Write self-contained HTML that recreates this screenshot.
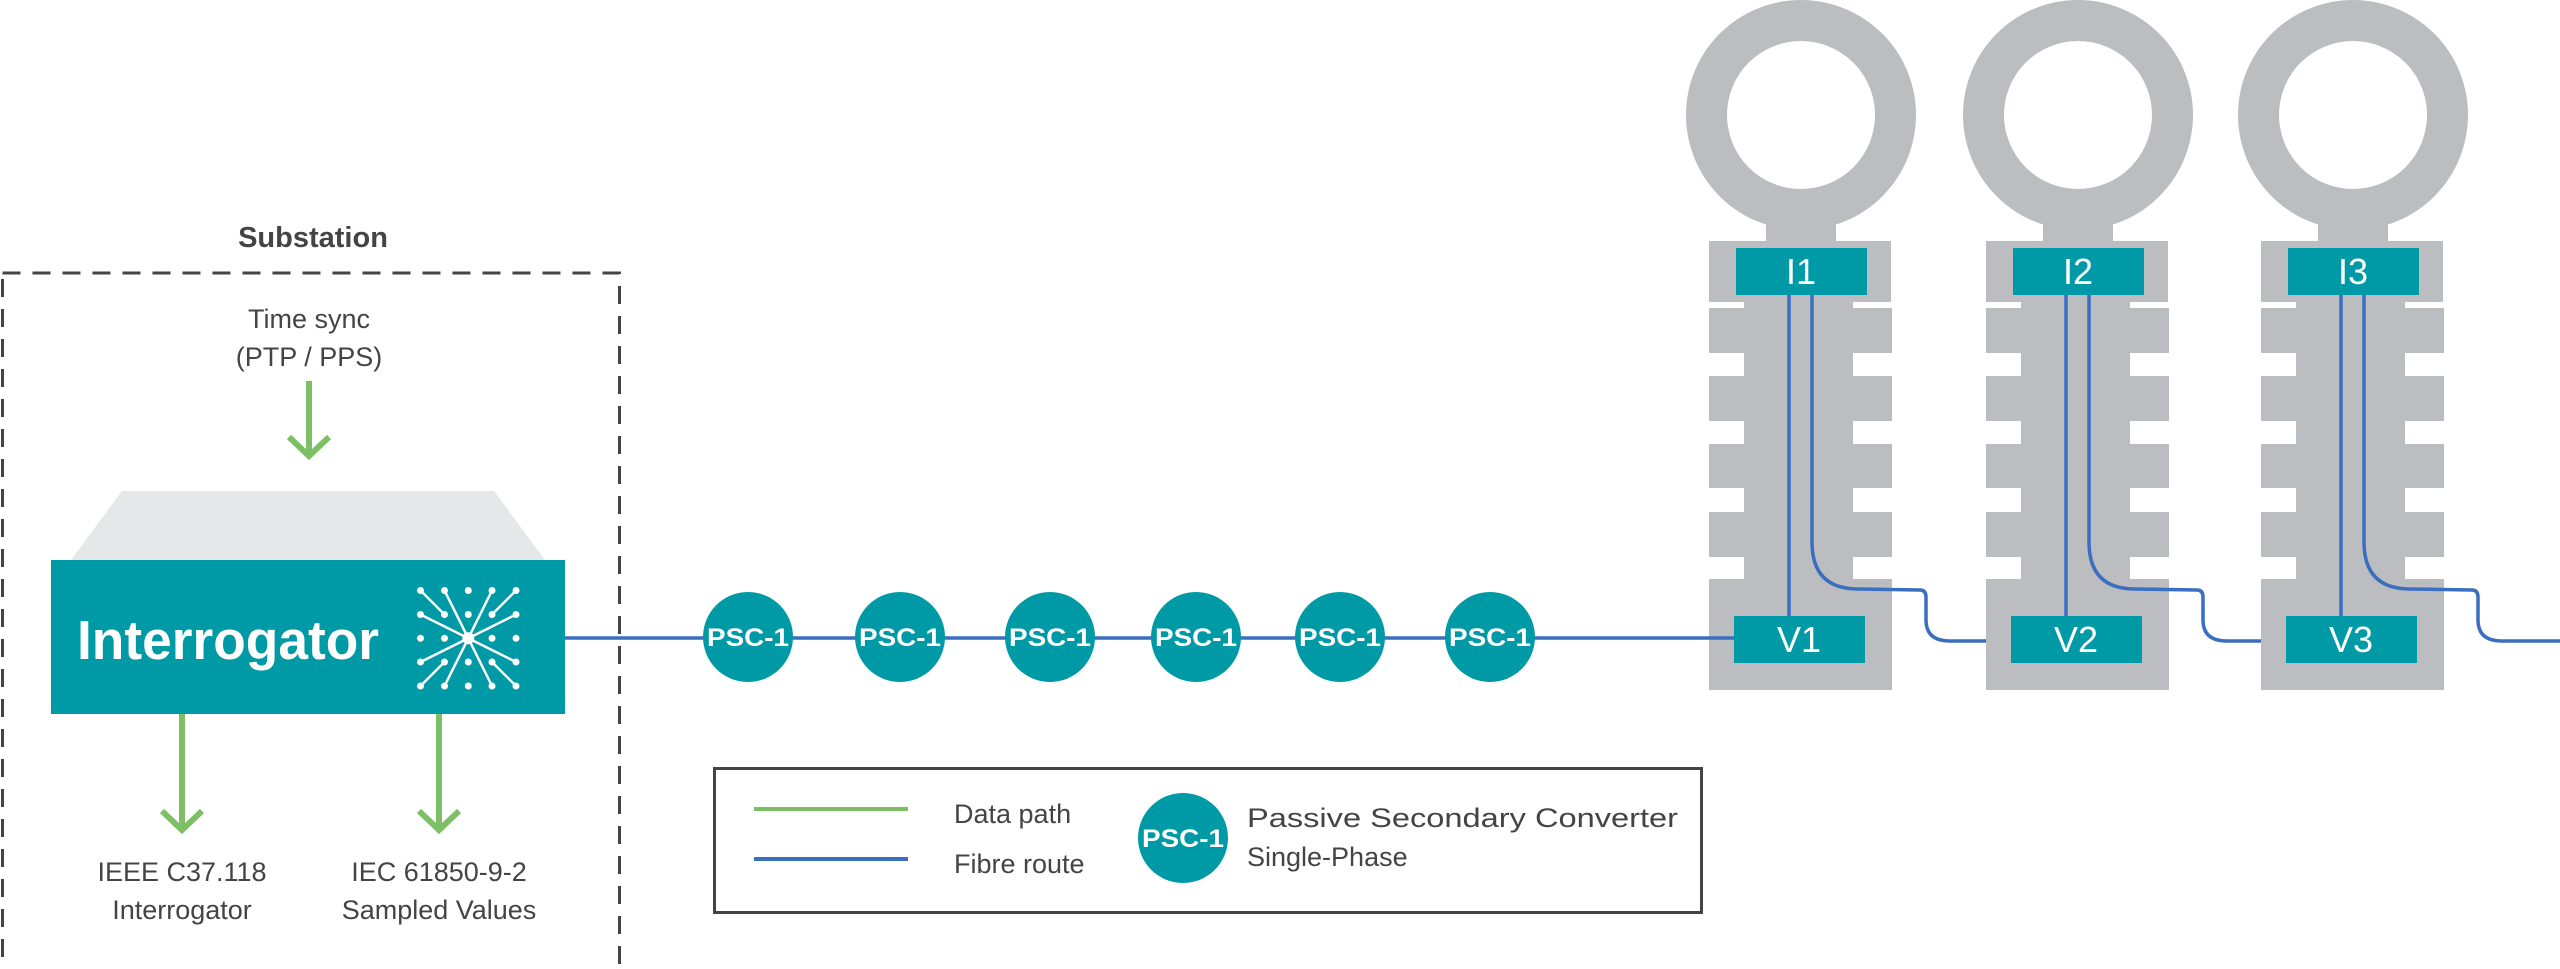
<!DOCTYPE html>
<html><head><meta charset="utf-8"><style>
html,body{margin:0;padding:0;background:#fff;}
svg{display:block;}
text{font-family:"Liberation Sans",sans-serif;}
</style></head><body>
<svg width="2560" height="969" viewBox="0 0 2560 969" xmlns="http://www.w3.org/2000/svg">
<defs>
<g id="ins">
  <circle cx="1801" cy="115" r="94.5" fill="none" stroke="#bcbdc0" stroke-width="41"/>
  <rect x="1766" y="195" width="70" height="50" fill="#bcbdc0"/>
  <rect x="1709" y="241" width="182" height="61" fill="#bcbdc0"/>
  <rect x="1744" y="302" width="109" height="388" fill="#bcbdc0"/>
  <rect x="1709" y="308" width="35" height="45" fill="#bcbdc0"/>
  <rect x="1853" y="308" width="39" height="45" fill="#bcbdc0"/>
  <rect x="1709" y="376" width="35" height="45" fill="#bcbdc0"/>
  <rect x="1853" y="376" width="39" height="45" fill="#bcbdc0"/>
  <rect x="1709" y="444" width="35" height="44" fill="#bcbdc0"/>
  <rect x="1853" y="444" width="39" height="44" fill="#bcbdc0"/>
  <rect x="1709" y="512" width="35" height="45" fill="#bcbdc0"/>
  <rect x="1853" y="512" width="39" height="45" fill="#bcbdc0"/>
  <rect x="1709" y="579" width="183" height="111" fill="#bcbdc0"/>
  <line x1="1789" y1="295" x2="1789" y2="616" stroke="#3a6fc0" stroke-width="3.5"/>
  <path d="M1812 295 L1812 542 Q1812 589 1858 589 L1920 590 Q1926 590 1926 597 L1926 620 Q1926 641 1950 641 L2015 641" fill="none" stroke="#3a6fc0" stroke-width="3.5"/>
  <rect x="1736" y="248" width="131" height="47" fill="#009aa6"/>
  <rect x="1734" y="616" width="131" height="47" fill="#009aa6"/>
</g>
<g id="psc">
  <circle r="45" fill="#009aa6"/>
  <text y="9" text-anchor="middle" font-size="25" font-weight="bold" fill="#fff" textLength="82" lengthAdjust="spacingAndGlyphs">PSC-1</text>
</g>
</defs>

<!-- Substation -->
<text x="313" y="247" text-anchor="middle" font-size="29" font-weight="bold" fill="#444">Substation</text>
<rect x="2.5" y="273" width="617" height="700" fill="none" stroke="#444" stroke-width="3" stroke-dasharray="18,12"/>
<text x="309" y="328" text-anchor="middle" font-size="27" fill="#444">Time sync</text>
<text x="309" y="366" text-anchor="middle" font-size="27" fill="#444">(PTP / PPS)</text>
<g stroke="#7dbf65" stroke-width="6" fill="none">
  <line x1="309" y1="381" x2="309" y2="456"/>
  <polyline points="289,437 309,456 329,437"/>
  <line x1="182" y1="714" x2="182" y2="830"/>
  <polyline points="162,811 182,830 202,811"/>
  <line x1="439" y1="714" x2="439" y2="830"/>
  <polyline points="419,811 439,830 459,811"/>
</g>
<text x="182" y="881" text-anchor="middle" font-size="27" fill="#444">IEEE C37.118</text>
<text x="182" y="919" text-anchor="middle" font-size="27" fill="#444">Interrogator</text>
<text x="439" y="881" text-anchor="middle" font-size="27" fill="#444">IEC 61850-9-2</text>
<text x="439" y="919" text-anchor="middle" font-size="27" fill="#444">Sampled Values</text>

<polygon points="122,491 494,491 545,560 71,560" fill="#e6e7e8"/>
<rect x="51" y="560" width="514" height="154" fill="#009aa6"/>
<text x="77" y="659" font-size="55" font-weight="bold" fill="#fff" textLength="302" lengthAdjust="spacingAndGlyphs">Interrogator</text>
<g stroke="#fff" stroke-width="2.5" fill="#fff">
  <line x1="420.5" y1="590.5" x2="444.5" y2="614.5"/>
  <line x1="516" y1="590.5" x2="492" y2="614.5"/>
  <line x1="420.5" y1="686" x2="444.5" y2="662"/>
  <line x1="516" y1="686" x2="492" y2="662"/>
  <line x1="444.5" y1="590.5" x2="468.3" y2="638.3"/>
  <line x1="492" y1="590.5" x2="468.3" y2="638.3"/>
  <line x1="444.5" y1="686" x2="468.3" y2="638.3"/>
  <line x1="492" y1="686" x2="468.3" y2="638.3"/>
  <line x1="420.5" y1="614.5" x2="468.3" y2="638.3"/>
  <line x1="516" y1="614.5" x2="468.3" y2="638.3"/>
  <line x1="420.5" y1="662" x2="468.3" y2="638.3"/>
  <line x1="516" y1="662" x2="468.3" y2="638.3"/>
  <g stroke="none">
    <circle cx="420.5" cy="590.5" r="3.5"/><circle cx="444.5" cy="590.5" r="3.5"/><circle cx="468.3" cy="590.5" r="3.5"/><circle cx="492" cy="590.5" r="3.5"/><circle cx="516" cy="590.5" r="3.5"/>
    <circle cx="420.5" cy="614.5" r="3.5"/><circle cx="444.5" cy="614.5" r="3.5"/><circle cx="468.3" cy="614.5" r="3.5"/><circle cx="492" cy="614.5" r="3.5"/><circle cx="516" cy="614.5" r="3.5"/>
    <circle cx="420.5" cy="638.3" r="3.5"/><circle cx="444.5" cy="638.3" r="3.5"/><circle cx="468.3" cy="638.3" r="6"/><circle cx="492" cy="638.3" r="3.5"/><circle cx="516" cy="638.3" r="3.5"/>
    <circle cx="420.5" cy="662" r="3.5"/><circle cx="444.5" cy="662" r="3.5"/><circle cx="468.3" cy="662" r="3.5"/><circle cx="492" cy="662" r="3.5"/><circle cx="516" cy="662" r="3.5"/>
    <circle cx="420.5" cy="686" r="3.5"/><circle cx="444.5" cy="686" r="3.5"/><circle cx="468.3" cy="686" r="3.5"/><circle cx="492" cy="686" r="3.5"/><circle cx="516" cy="686" r="3.5"/>
  </g>
</g>

<!-- insulators -->
<use href="#ins"/>
<use href="#ins" transform="translate(277,0)"/>
<use href="#ins" transform="translate(552,0)"/>
<line x1="2560" y1="641" x2="2567" y2="641" stroke="#3a6fc0" stroke-width="3.5"/>
<g fill="#fff" font-size="36" text-anchor="middle">
  <text x="1801" y="284">I1</text><text x="2078" y="284">I2</text><text x="2353" y="284">I3</text>
  <text x="1799" y="652">V1</text><text x="2076" y="652">V2</text><text x="2351" y="652">V3</text>
</g>

<!-- fibre -->
<line x1="565" y1="638" x2="1734" y2="638" stroke="#3a6fc0" stroke-width="3.5"/>
<use href="#psc" transform="translate(748,637)"/>
<use href="#psc" transform="translate(900,637)"/>
<use href="#psc" transform="translate(1050,637)"/>
<use href="#psc" transform="translate(1196,637)"/>
<use href="#psc" transform="translate(1340,637)"/>
<use href="#psc" transform="translate(1490,637)"/>

<!-- legend -->
<rect x="714.5" y="768.5" width="987" height="144" fill="#fff" stroke="#444" stroke-width="3"/>
<line x1="754" y1="809" x2="908" y2="809" stroke="#7dbf65" stroke-width="4"/>
<line x1="754" y1="859" x2="908" y2="859" stroke="#3a6fc0" stroke-width="4"/>
<text x="954" y="823" font-size="27" fill="#444">Data path</text>
<text x="954" y="873" font-size="27" fill="#444">Fibre route</text>
<use href="#psc" transform="translate(1183,838)"/>
<text x="1247" y="827" font-size="27" fill="#444" textLength="431" lengthAdjust="spacingAndGlyphs">Passive Secondary Converter</text>
<text x="1247" y="866" font-size="27" fill="#444">Single-Phase</text>
</svg>
</body></html>
